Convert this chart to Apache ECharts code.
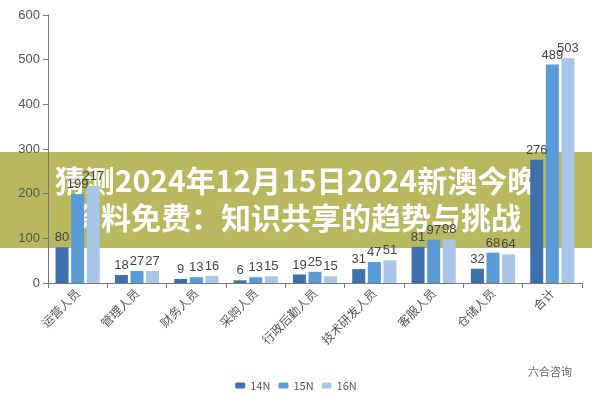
<!DOCTYPE html>
<html><head><meta charset="utf-8">
<script src="https://cdn.jsdelivr.net/npm/echarts@6/dist/echarts.min.js"></script>
<style>body{margin:0}#c{width:592px;height:400px}</style></head>
<body><div id="c"></div>
<script>
var cats = ['运营人员','管理人员','财务人员','采购人员','行政后勤人员','技术研发人员','客服人员','仓储人员','合计'];
var s14 = [80,18,9,6,19,31,81,32,276];
var s15 = [199,27,13,13,25,47,97,68,489];
var s16 = [217,27,16,15,15,51,98,64,503];

function ser(name, data, col) {
	return {name:name, type:'bar', data:data, barWidth:13, barGap:'20%',
		itemStyle:{color:col},
		label:{show:true, position:'top', color:'#444', fontSize:13, distance:3, fontFamily:'Liberation Sans'}};
}
var myChart = echarts.init(document.getElementById('c'));
myChart.setOption({
	animation:false,
	textStyle:{fontFamily:'Noto Sans CJK SC'},
	grid:{left:48, right:10, top:15, bottom:117},
	legend:{bottom:4, itemWidth:10, itemHeight:6, textStyle:{color:'#555', fontSize:11}},
	xAxis:{type:'category', data:cats,
		axisLine:{lineStyle:{color:'#777'}}, axisTick:{show:true, lineStyle:{color:'#777'}},
		axisLabel:{rotate:45, color:'#555', fontSize:12, interval:0}},
	yAxis:{type:'value', min:0, max:600, interval:100, splitLine:{show:false},
		axisLine:{show:true, lineStyle:{color:'#777'}}, axisTick:{show:true},
		axisLabel:{color:'#555', fontSize:13, fontFamily:'Liberation Sans'}},
	series:[ser('14N', s14, '#3e70ae'), ser('15N', s15, '#5b9bd5'), ser('16N', s16, '#a9c5e8')],
	graphic:[
		{type:'rect', shape:{x:0, y:152, width:592, height:96}, style:{fill:'rgba(160,160,40,0.75)'}},
		{type:'text', x:296, y:162, style:{text:'猜测2024年12月15日2024新澳今晚\n资料免费：知识共享的趋势与挑战',
			fill:'#fff', font:'bold 30px "Noto Sans CJK SC"', textAlign:'center', lineHeight:37}},
		{type:'text', right:20, top:366, style:{text:'六合咨询', fill:'#666', font:'11px "Noto Sans CJK SC"'}}
	]
});
</script></body></html>
